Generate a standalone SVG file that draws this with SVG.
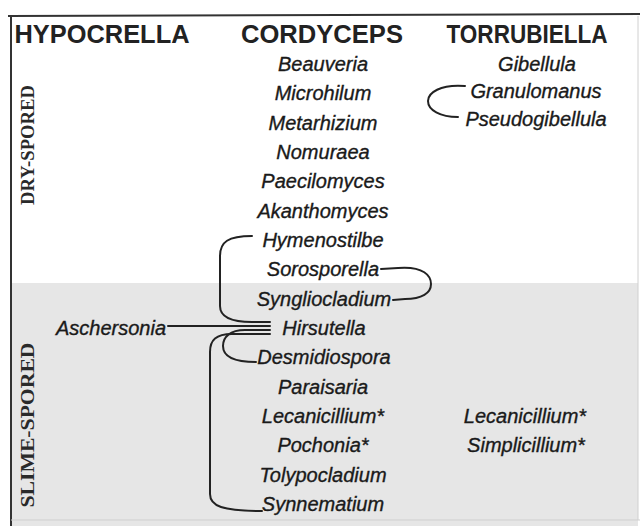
<svg xmlns="http://www.w3.org/2000/svg" width="640" height="526" viewBox="0 0 640 526">
<style>
.hd{font-family:"Liberation Sans",Arial,sans-serif;font-weight:bold;font-size:25px;fill:#222;text-anchor:middle}
.it{font-family:"Liberation Sans",Arial,sans-serif;font-style:italic;font-size:20px;fill:#1a1a1a;stroke:#1a1a1a;stroke-width:0.35;text-anchor:middle}
.side{font-family:"Liberation Serif","Times New Roman",serif;font-weight:bold;font-size:19px;fill:#2a2a2a;text-anchor:middle}
.ln{fill:none;stroke:#222;stroke-width:2;stroke-linecap:round}
.frame{fill:none;stroke:#333;stroke-width:2}
</style>
<rect x="0" y="0" width="640" height="526" fill="#ffffff"/>
<rect id="slime-band" x="11" y="283" width="627" height="243" fill="#e6e6e6"/>
<g id="frame">
<line class="frame" x1="8" y1="16" x2="640" y2="14"/>
<line class="frame" x1="11" y1="15" x2="11" y2="526"/>
<line x1="638" y1="16" x2="638" y2="520" stroke="#d0d0d0" stroke-width="1"/>
<line x1="11" y1="520" x2="640" y2="520" stroke="#cfcfcf" stroke-width="1"/>
</g>
<g id="side-labels">
<text class="side" transform="translate(34,145) rotate(-90)" textLength="120" lengthAdjust="spacingAndGlyphs">DRY-SPORED</text>
<text class="side" transform="translate(34,425) rotate(-90)" textLength="165" lengthAdjust="spacingAndGlyphs">SLIME-SPORED</text>
</g>
<g id="headers">
<text id="hypocrella" class="hd" x="102" y="43" textLength="175" lengthAdjust="spacingAndGlyphs">HYPOCRELLA</text>
<text id="cordyceps" class="hd" x="322" y="43" textLength="162" lengthAdjust="spacingAndGlyphs">CORDYCEPS</text>
<text id="torrubiella" class="hd" x="527" y="43" textLength="161" lengthAdjust="spacingAndGlyphs">TORRUBIELLA</text>
</g>
<g id="cordyceps-list">
<text id="beauveria" class="it" x="323" y="71">Beauveria</text>
<text id="microhilum" class="it" x="323" y="100">Microhilum</text>
<text id="metarhizium" class="it" x="323" y="130">Metarhizium</text>
<text id="nomuraea" class="it" x="323" y="159">Nomuraea</text>
<text id="paecilomyces" class="it" x="323" y="188">Paecilomyces</text>
<text id="akanthomyces" class="it" x="323" y="218">Akanthomyces</text>
<text id="hymenostilbe" class="it" x="323" y="247">Hymenostilbe</text>
<text id="sorosporella" class="it" x="323" y="276">Sorosporella</text>
<text id="syngliocladium" class="it" x="324" y="306">Syngliocladium</text>
<text id="hirsutella" class="it" x="324" y="335">Hirsutella</text>
<text id="desmidiospora" class="it" x="324" y="364">Desmidiospora</text>
<text id="paraisaria" class="it" x="323" y="394">Paraisaria</text>
<text id="lecanicillium1" class="it" x="323" y="423">Lecanicillium*</text>
<text id="pochonia" class="it" x="323" y="452">Pochonia*</text>
<text id="tolypocladium" class="it" x="323" y="482">Tolypocladium</text>
<text id="synnematium" class="it" x="323" y="511">Synnematium</text>
</g>
<g id="torrubiella-list">
<text id="gibellula" class="it" x="537" y="71">Gibellula</text>
<text id="granulomanus" class="it" x="536" y="98">Granulomanus</text>
<text id="pseudogibellula" class="it" x="536" y="126">Pseudogibellula</text>
<text id="lecanicillium2" class="it" x="525" y="423">Lecanicillium*</text>
<text id="simplicillium" class="it" x="526" y="452">Simplicillium*</text>
</g>
<g id="hypocrella-list">
<text id="aschersonia" class="it" x="111" y="335">Aschersonia</text>
</g>
<g id="connectors">
<path class="ln" d="M465,86 C440,84 428,93 428,101 C428,110 440,117 458,117"/>
<path class="ln" d="M381,269 L398,268 C424,266 431,276 431,284 C431,293 422,299 405,299 L393,300"/>
<path class="ln" d="M252,236 C228,236 220,242 220,256 L220,306 C220,317 232,322 252,322 L270,322"/>
<path class="ln" d="M168,326 L270,326"/>
<path class="ln" d="M270,330 L245,330 C230,330 223,337 223,346 C223,356 233,362 256,362"/>
<path class="ln" d="M270,334 L232,334 C216,334 210,340 210,352 L210,494 C210,506 222,511 262,511"/>
</g>
</svg>
